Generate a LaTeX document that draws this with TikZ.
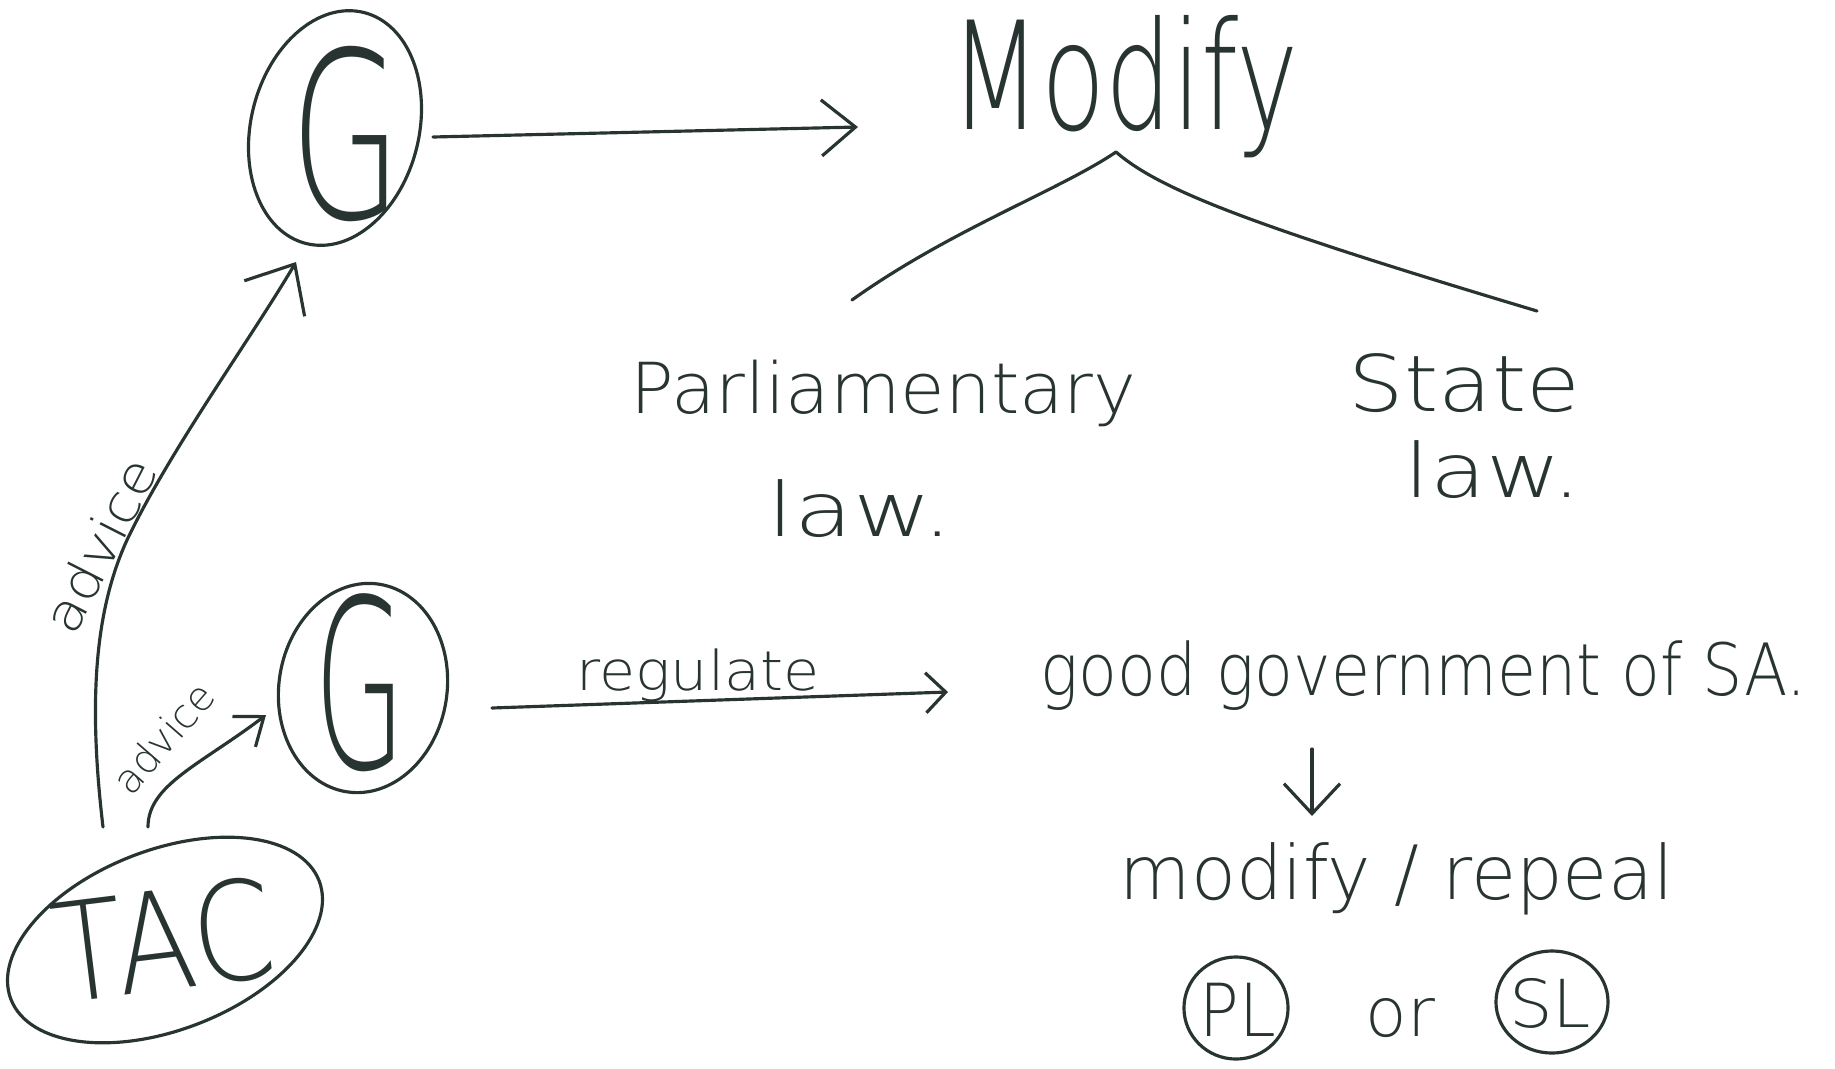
\documentclass[tikz,border=0pt]{standalone}
\usepackage{fontspec}
\newfontfamily\hand{DejaVu Sans ExtraLight}
\usetikzlibrary{shapes.geometric,arrows.meta}
\definecolor{ink}{RGB}{40,52,50}
\newcommand\hw[3]{\scalebox{#2}[1]{\fontsize{#1}{#1}\selectfont\hand #3}}
\begin{document}
\begin{tikzpicture}[x=0.01cm, y=-0.01cm,
  bubble/.style={ellipse, draw=ink, line width=0.9pt, inner sep=0pt},
  txt/.style={inner sep=0pt, text=ink},
  conn/.style={draw=ink, line width=0.9pt, line cap=round, line join=round},
  harrow/.style n args={2}{conn, -{Straight Barb[length=#1, width=#2]}}]
\fill[white] (0,0) rectangle (1835,1069);
\useasboundingbox (0,0) rectangle (1835,1069);

% nodes
\node[bubble, minimum width=1.68cm, minimum height=2.38cm, rotate=-14] (Gtop) at (335,128) {};
\node[txt] (GtopL) at (346,134) {\hw{66pt}{0.62}{G}};
\node[txt, anchor=base west] (Modify) at (950,129) {\hw{42.7pt}{0.70}{Modify}};
\node[txt, anchor=base west] (Parl) at (630,413) {\hw{20pt}{1.03}{Parliamentary}};
\node[txt, anchor=base west] (Plaw) at (767,536) {\hw{21.3pt}{1.28}{law.}};
\node[txt, anchor=base west] (State) at (1348,411) {\hw{22.2pt}{1.12}{State}};
\node[txt, anchor=base west] (Slaw) at (1404,497) {\hw{21.3pt}{1.22}{law.}};
\node[bubble, minimum width=1.68cm, minimum height=2.10cm, rotate=-9] (Glow) at (363,688) {};
\node[txt] (GlowL) at (360,683) {\hw{67pt}{0.5}{G}};
\node[txt, anchor=base west] (Reg) at (576,690) {\hw{15.6pt}{1.07}{regulate}};
\node[txt, anchor=base west] (Good) at (1040,695) {\hw{20.5pt}{0.88}{good government of SA.}};
\node[txt, anchor=base west] (ModRep) at (1119,899) {\hw{21.3pt}{0.98}{modify / repeal}};
\node[bubble, minimum width=1.04cm, minimum height=1.02cm] (PL) at (1236,1008) {};
\node[txt] (PLt) at (1238,1010) {\hw{20.8pt}{0.9}{PL}};
\node[txt, anchor=base west] (Or) at (1365,1036) {\hw{19.3pt}{1}{or}};
\node[bubble, minimum width=1.12cm, minimum height=1.02cm] (SL) at (1552,1002) {};
\node[txt] (SLt) at (1550,1003) {\hw{18.8pt}{1.04}{SL}};
\node[bubble, minimum width=3.30cm, minimum height=1.80cm, rotate=21] (TAC) at (165,940) {};
\node[txt, rotate=7] (TACt) at (163,940) {\hw{39pt}{0.85}{TAC}};
\node[txt, rotate=63] (Adv1) at (100,545) {\hw{14.8pt}{1.1}{advice}};
\node[txt, rotate=49] (Adv2) at (163,738) {\hw{11.4pt}{1.0}{advice}};

% connector end points
\coordinate (gtopOut) at (433,137);
\coordinate (modIn) at (858,127);
\coordinate (apex) at (1116,152);
\coordinate (parlTop) at (852,300);
\coordinate (stateTop) at (1537,311);
\coordinate (glowOut) at (492,708);
\coordinate (goodIn) at (948,692);
\coordinate (goodOut) at (1312,749);
\coordinate (modrepIn) at (1312,816);
\coordinate (tacOutA) at (103,827);
\coordinate (gtopIn) at (296,262);
\coordinate (tacOutB) at (148,827);
\coordinate (glowIn) at (266,715);

% connectors
\draw[harrow={0.34cm}{0.56cm}] (gtopOut) -- (modIn);
\draw[conn] (apex) .. controls (1060,190) and (950,230) .. (parlTop);
\draw[conn] (apex) .. controls (1160,190) and (1250,225) .. (stateTop);
\draw[harrow={0.2cm}{0.4cm}] (glowOut) -- (goodIn);
\draw[harrow={0.3cm}{0.56cm}] (goodOut) -- (modrepIn);
\draw[harrow={0.4cm}{0.7cm}] (tacOutA) .. controls (88,700) and (95,610) .. (127,540) .. controls (170,450) and (250,340) .. (gtopIn);
\draw[harrow={0.25cm}{0.38cm}] (tacOutB) .. controls (148,785) and (200,765) .. (glowIn);
\end{tikzpicture}
\end{document}
